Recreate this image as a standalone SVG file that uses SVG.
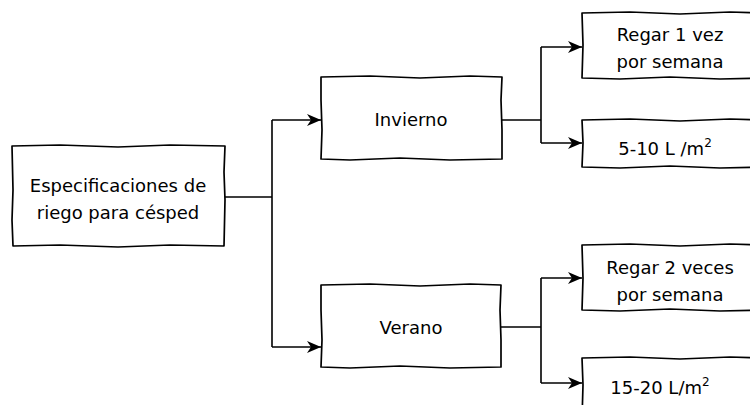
<svg xmlns="http://www.w3.org/2000/svg" width="750" height="405" viewBox="0 0 750 405">
<defs>
<style>
.box{fill:#fff;stroke:#000;stroke-width:1.7;stroke-linejoin:round}
.lbl{font-family:"DejaVu Sans","Liberation Sans",sans-serif;font-size:18px;fill:#000;text-anchor:middle}
.sup{font-size:12px}
.edge{fill:none;stroke:#000;stroke-width:1.6}
</style>
<marker id="arr" viewBox="0 0 14 12" refX="14" refY="6" markerWidth="14" markerHeight="12" markerUnits="userSpaceOnUse" orient="auto">
<path d="M0,0 L14,6 L0,12 L4,6 z" fill="#000"/>
</marker>
</defs>
<rect width="750" height="405" fill="#fff"/>
<g id="connectors">
<path class="edge" d="M225,197 H272 M272,120 V347 M501,120 H541 M541,47 V143 M501,327 H541 M541,278 V383"/>
<path class="edge" marker-end="url(#arr)" d="M272,120 H321"/>
<path class="edge" marker-end="url(#arr)" d="M272,347 H321"/>
<path class="edge" marker-end="url(#arr)" d="M541,47 H582"/>
<path class="edge" marker-end="url(#arr)" d="M541,143 H582"/>
<path class="edge" marker-end="url(#arr)" d="M541,278 H582"/>
<path class="edge" marker-end="url(#arr)" d="M541,383 H582"/>
</g>
<g id="root">
<path class="box" d="M12,146 L60,145 L118,147 L170,145 L225,146 L224,172 L225,200 L224,246 L170,245 L118,247 L60,245 L13,246 L12,220 L13,190 Z"/>
<text class="lbl" x="118" y="192">Especificaciones de</text>
<text class="lbl" x="118" y="219">riego para césped</text>
</g>
<g id="invierno">
<path class="box" d="M321,77 L370,76 L420,78 L470,76 L502,77 L501,100 L502,130 L502,159 L450,160 L400,158 L350,160 L321,159 L322,130 L321,100 Z"/>
<text class="lbl" x="411" y="126">Invierno</text>
</g>
<g id="verano">
<path class="box" d="M321,285 L370,284 L420,286 L470,284 L501,285 L500,310 L501,340 L501,367 L450,368 L400,366 L350,368 L321,367 L322,340 L321,310 Z"/>
<text class="lbl" x="411" y="334">Verano</text>
</g>
<g id="invierno-freq">
<path class="box" d="M582,13 L630,12 L680,14 L730,12 L762,13 L762,78 L720,79 L670,77 L620,79 L582,78 L583,45 Z"/>
<text class="lbl" x="670" y="41">Regar 1 vez</text>
<text class="lbl" x="670" y="68">por semana</text>
</g>
<g id="invierno-vol">
<path class="box" d="M582,120 L630,119 L680,121 L730,119 L762,120 L762,167 L720,168 L670,166 L620,168 L582,167 L583,143 Z"/>
<text class="lbl" x="665" y="155">5-10 L /m<tspan class="sup" dy="-8">2</tspan></text>
</g>
<g id="verano-freq">
<path class="box" d="M582,245 L630,244 L680,246 L730,244 L762,245 L762,310 L720,311 L670,309 L620,311 L582,310 L583,278 Z"/>
<text class="lbl" x="670" y="274">Regar 2 veces</text>
<text class="lbl" x="670" y="301">por semana</text>
</g>
<g id="verano-vol">
<path class="box" d="M582,358 L630,357 L680,359 L730,357 L762,358 L762,420 L582,420 L583,385 Z"/>
<text class="lbl" x="660" y="394">15-20 L/m<tspan class="sup" dy="-8">2</tspan></text>
</g>
</svg>
